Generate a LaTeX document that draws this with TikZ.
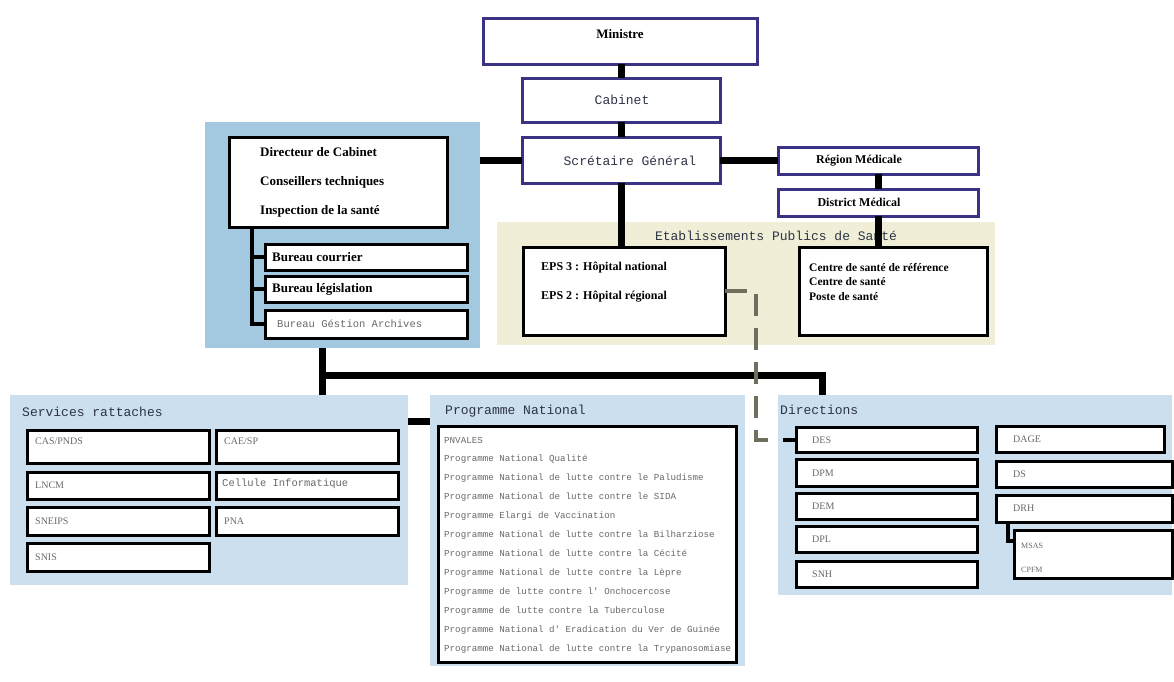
\documentclass[tikz,border=0pt]{standalone}
\usepackage{fontspec}
\setmainfont{Liberation Serif}
\setmonofont{Liberation Mono}
\definecolor{navy}{RGB}{58,50,130}
\definecolor{cabblue}{RGB}{163,201,224}
\definecolor{paleblue}{RGB}{203,223,238}
\definecolor{beige}{RGB}{240,238,214}
\definecolor{dashgray}{RGB}{112,110,92}
\definecolor{labelgray}{RGB}{105,105,105}
\definecolor{titleink}{RGB}{45,52,70}
\tikzset{
  navybox/.style={draw=navy, line width=3pt, fill=white, inner sep=0pt, outer sep=0pt},
  blkbox/.style={draw=black, line width=3pt, fill=white, inner sep=0pt, outer sep=0pt},
  zone/.style={fill=#1, draw=none, inner sep=0pt, outer sep=0pt},
  conn/.style={line width=7pt, black},
  thinconn/.style={line width=4.5pt, black},
  dashconn/.style={line width=4pt, dashgray, dash pattern=on 22pt off 12pt},
  lblbold/.style={inner sep=0pt, font=\fontsize{13}{15}\selectfont\bfseries},
  lblmono/.style={inner sep=0pt, text=titleink, font=\fontsize{13}{15}\selectfont\ttfamily},
  lblsmall/.style={inner sep=0pt, text=labelgray, font=\fontsize{10}{12}\selectfont},
  lblsmono/.style={inner sep=0pt, text=labelgray, font=\fontsize{10.5}{12}\selectfont\ttfamily},
  lblprog/.style={inner sep=0pt, anchor=west, text=labelgray, font=\fontsize{9.2}{10}\selectfont\ttfamily},
}
% box from its corners: style, name, x1, y1, x2, y2
\newcommand{\cornerbox}[6]{%
  \node[#1, minimum width={#5-#3}, minimum height={#6-#4}] (#2) at ({(#3+#5)/2},{(#4+#6)/2}) {};}
\begin{document}
\begin{tikzpicture}[x=1pt, y=-1pt]
\useasboundingbox (0,0) rectangle (1174,681);
\fill[white] (0,0) rectangle (1174,681);

% background zones
\cornerbox{zone=cabblue}{cabzone}{205}{122}{480}{348}
\cornerbox{zone=beige}{epszone}{497}{222}{995}{345}
\cornerbox{zone=paleblue}{svc}{10}{395}{408}{585}
\cornerbox{zone=paleblue}{prog}{430}{395}{745}{666}
\cornerbox{zone=paleblue}{dir}{778}{395}{1172}{595}

% top of the hierarchy
\cornerbox{navybox}{ministre}{483}{18}{757}{64}
\cornerbox{navybox}{cabinet}{522}{78}{720}{122}
\cornerbox{navybox}{sg}{522}{137}{720}{183}
\node[lblbold] (t-min) at (620,34) {Ministre};
\node[lblmono] (t-cab) at (622,100) {Cabinet};
\node[lblmono] (t-sg) at (630,161) {Scrétaire Général};

\coordinate (spine) at (621,0);
\draw[conn] (ministre.south -| spine) -- (cabinet.north -| spine);
\draw[conn] (cabinet.south -| spine) -- (sg.north -| spine);

% regional chain
\cornerbox{navybox}{region}{778}{147}{978}{174}
\cornerbox{navybox}{district}{778}{189}{978}{216}
\node[lblbold, font=\fontsize{12}{14}\selectfont\bfseries] (t-reg) at (859,161) {Région Médicale};
\node[lblbold, font=\fontsize{12}{14}\selectfont\bfseries] (t-dis) at (859,202) {District Médical};
\coordinate (rtrunk) at (878,0);
\draw[conn] (sg.east) -- (region.west |- sg.east);
\draw[conn] (region.south -| rtrunk) -- (district.north -| rtrunk);

% cabinet services
\cornerbox{blkbox}{cabw}{229}{137}{447}{227}
\node[lblbold, anchor=west] (t-dir) at (260,152) {Directeur de Cabinet};
\node[lblbold, anchor=west] (t-cons) at (260,182) {Conseillers techniques};
\node[lblbold, anchor=west] (t-insp) at (260,211) {Inspection de la santé};
\cornerbox{blkbox}{bcour}{265}{244}{467}{270}
\cornerbox{blkbox}{bleg}{265}{276}{467}{302}
\cornerbox{blkbox}{barch}{265}{310}{467}{338}
\node[lblbold, anchor=west] (t-bc) at (272,257) {Bureau courrier};
\node[lblbold, anchor=west] (t-bl) at (272,289) {Bureau législation};
\node[lblsmono, anchor=west] (t-ba) at (277,324) {Bureau Géstion Archives};
\draw[thinconn] (cabw.south -| 252,0) |- (bcour.west);
\draw[thinconn] (cabw.south -| 252,0) |- (bleg.west);
\draw[thinconn] (cabw.south -| 252,0) |- (barch.west);
\draw[conn] (sg.west) -- (cabzone.east |- sg.west);

% public health establishments
\node[lblmono] (t-eps) at (776,236) {Etablissements Publics de Santé};
\cornerbox{blkbox}{eps}{523}{247}{725}{335}
\cornerbox{blkbox}{centre}{799}{247}{987}{335}
\node[lblbold, anchor=west, font=\fontsize{12}{14}\selectfont\bfseries] (t-e3) at (541,268) {EPS 3 : Hôpital national};
\node[lblbold, anchor=west, font=\fontsize{12}{14}\selectfont\bfseries] (t-e2) at (541,297) {EPS 2 : Hôpital régional};
\node[lblbold, anchor=west, font=\fontsize{11.5}{13}\selectfont\bfseries] (t-c1) at (809,267) {Centre de santé de référence};
\node[lblbold, anchor=west, font=\fontsize{11.5}{13}\selectfont\bfseries] (t-c2) at (809,282) {Centre de santé};
\node[lblbold, anchor=west, font=\fontsize{11.5}{13}\selectfont\bfseries] (t-c3) at (809,297) {Poste de santé};
\draw[conn] (sg.south -| spine) -- (eps.north -| spine);
\draw[conn] (district.south -| rtrunk) -- (centre.north -| rtrunk);

% distribution bus
\coordinate (busL) at (322,375);
\coordinate (busR) at (822,375);
\draw[conn] (cabzone.south -| busL) -- (svc.north -| busL);
\draw[conn] (busL) -- (busR) -- (dir.north -| busR);
\draw[conn] (svc.east |- 0,421) -- (prog.west |- 0,421);

% attached services
\node[lblmono, anchor=west] (t-svc) at (22,412) {Services rattaches};
\cornerbox{blkbox}{cas}{27}{430}{209}{463}
\cornerbox{blkbox}{cae}{216}{430}{398}{463}
\cornerbox{blkbox}{lncm}{27}{472}{209}{499}
\cornerbox{blkbox}{cell}{216}{472}{398}{499}
\cornerbox{blkbox}{sneips}{27}{507}{209}{535}
\cornerbox{blkbox}{pna}{216}{507}{398}{535}
\cornerbox{blkbox}{snis}{27}{543}{209}{571}
\node[lblsmall, anchor=west] (t-cas) at (35,441) {CAS/PNDS};
\node[lblsmall, anchor=west] (t-cae) at (224,441) {CAE/SP};
\node[lblsmall, anchor=west] (t-lncm) at (35,485) {LNCM};
\node[lblsmono, anchor=west] (t-cell) at (222,484) {Cellule Informatique};
\node[lblsmall, anchor=west] (t-sneips) at (35,521) {SNEIPS};
\node[lblsmall, anchor=west] (t-pna) at (224,521) {PNA};
\node[lblsmall, anchor=west] (t-snis) at (35,557) {SNIS};

% national programmes
\node[lblmono, anchor=west] (t-prog) at (445,411) {Programme National};
\cornerbox{blkbox}{plist}{438}{426}{736}{662}
\node[lblprog] (p1) at (444,440) {PNVALES};
\node[lblprog] (p2) at (444,459) {Programme National Qualité};
\node[lblprog] (p3) at (444,478) {Programme National de lutte contre le Paludisme};
\node[lblprog] (p4) at (444,497) {Programme National de lutte contre le SIDA};
\node[lblprog] (p5) at (444,516) {Programme Elargi de Vaccination};
\node[lblprog] (p6) at (444,535) {Programme National de lutte contre la Bilharziose};
\node[lblprog] (p7) at (444,554) {Programme National de lutte contre la Cécité};
\node[lblprog] (p8) at (444,573) {Programme National de lutte contre la Lèpre};
\node[lblprog] (p9) at (444,592) {Programme de lutte contre l' Onchocercose};
\node[lblprog] (p10) at (444,611) {Programme de lutte contre la Tuberculose};
\node[lblprog] (p11) at (444,630) {Programme National d' Eradication du Ver de Guinée};
\node[lblprog] (p12) at (444,649) {Programme National de lutte contre la Trypanosomiase};

% directorates
\node[lblmono, anchor=west] (t-dirs) at (780,410) {Directions};
\cornerbox{blkbox}{des}{796}{427}{977}{452}
\cornerbox{blkbox}{dpm}{796}{459}{977}{486}
\cornerbox{blkbox}{dem}{796}{493}{977}{519}
\cornerbox{blkbox}{dpl}{796}{526}{977}{552}
\cornerbox{blkbox}{snh}{796}{561}{977}{587}
\cornerbox{blkbox}{dage}{996}{426}{1164}{452}
\cornerbox{blkbox}{ds}{996}{461}{1172}{487}
\cornerbox{blkbox}{drh}{996}{495}{1172}{522}
\cornerbox{blkbox}{drhsub}{1014}{530}{1172}{578}
\node[lblsmall, anchor=west] (t-des) at (812,440) {DES};
\node[lblsmall, anchor=west] (t-dpm) at (812,473) {DPM};
\node[lblsmall, anchor=west] (t-dem) at (812,506) {DEM};
\node[lblsmall, anchor=west] (t-dpl) at (812,539) {DPL};
\node[lblsmall, anchor=west] (t-snh) at (812,574) {SNH};
\node[lblsmall, anchor=west] (t-dage) at (1013,439) {DAGE};
\node[lblsmall, anchor=west] (t-ds) at (1013,474) {DS};
\node[lblsmall, anchor=west] (t-drh) at (1013,508) {DRH};
\node[lblsmall, anchor=west, font=\fontsize{8}{10}\selectfont] (t-s1) at (1021,546) {MSAS};
\node[lblsmall, anchor=west, font=\fontsize{8}{10}\selectfont] (t-s2) at (1021,570) {CPFM};
\draw[thinconn] (drh.south -| 1008,0) |- (drhsub.west |- 0,541);

% dashed link from the hospitals to DES
\coordinate (dbend) at (756,0);
\coordinate (dfoot) at (773,440);
\coordinate (dtip) at (783,440);
\draw[dashconn] (eps.east) -- (eps.east -| dbend) |- (dfoot);
\draw[thinconn, line width=4pt] (dtip) -- (des.west |- dtip);
\end{tikzpicture}
\end{document}
